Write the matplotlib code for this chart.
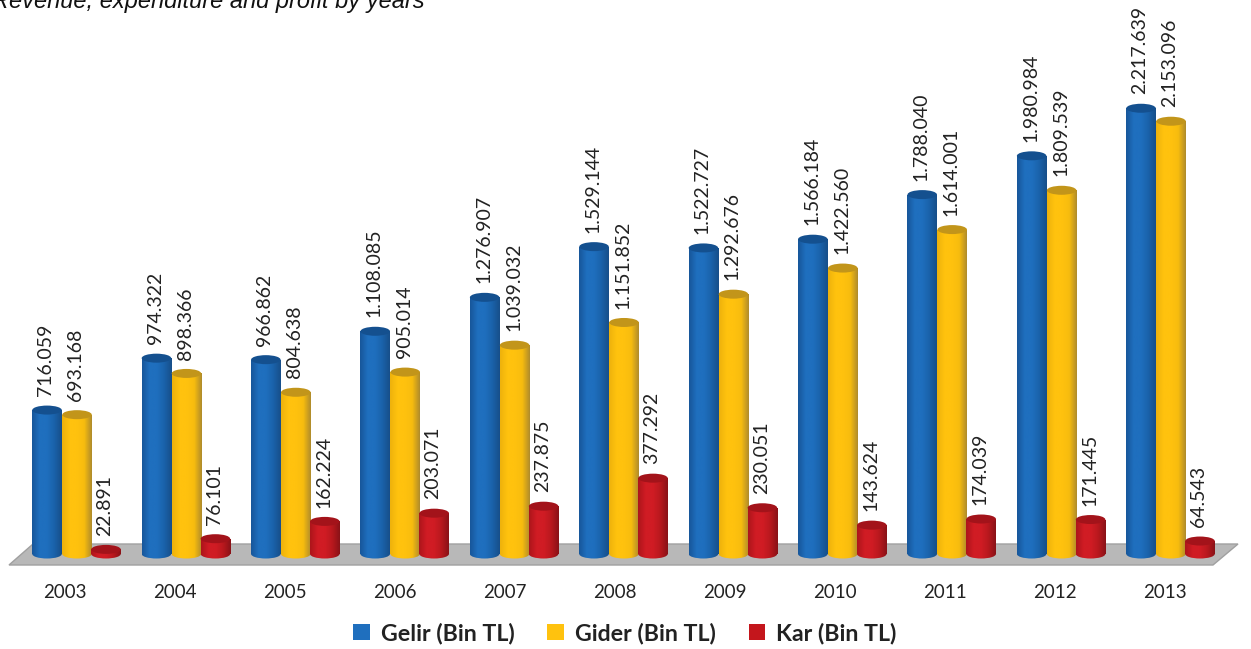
import numpy as np
import matplotlib
matplotlib.use('Agg')
import matplotlib.pyplot as plt
from matplotlib.colors import LinearSegmentedColormap
from matplotlib.patches import Ellipse, Patch, Polygon, Rectangle

years = ['2003', '2004', '2005', '2006', '2007', '2008', '2009', '2010', '2011', '2012', '2013']
gelir = [716059, 974322, 966862, 1108085, 1276907, 1529144, 1522727, 1566184, 1788040, 1980984, 2217639]
gider = [693168, 898366, 804638, 905014, 1039032, 1151852, 1292676, 1422560, 1614001, 1809539, 2153096]
kar = [22891, 76101, 162224, 203071, 237875, 377292, 230051, 143624, 174039, 171445, 64543]

plt.rcParams['font.family'] = ['Lato', 'DejaVu Sans']

W, H = 1251, 649
PX_X = 109.4     # px per group
PX_Y = 0.000201  # px per TL
X0, Y0 = 77, 554  # px position of x=0, y=0

fig = plt.figure(figsize=(W / 100, H / 100), dpi=100)
ax = fig.add_axes([0, 0, 1, 1])
ax.set_xlim(-X0 / PX_X, (W - X0) / PX_X)
ax.set_ylim(-(H - Y0) / PX_Y, Y0 / PX_Y)
ax.axis('off')

bar_w = 29.5 / PX_X
ell_h = 9 / PX_Y
grad = np.linspace(0, 1, 64).reshape(1, -1)


def cylinder(x, val, cmap, top):
    left = x - bar_w / 2
    body = Rectangle((left, 0), bar_w, val, transform=ax.transData)
    foot = Ellipse((x, 0), bar_w, ell_h, transform=ax.transData)
    for clip in (body, foot):
        im = ax.imshow(grad, cmap=cmap, extent=(left, left + bar_w, -ell_h, val),
                       aspect='auto', zorder=3)
        im.set_clip_path(clip)
    ax.add_patch(Ellipse((x, val), bar_w, ell_h, fc=top, ec='none', zorder=4))


# grey floor
floor = [(9 / W, 1 - 565 / H), (33 / W, 1 - 544 / H), (1238 / W, 1 - 544 / H), (1213 / W, 1 - 565 / H)]
ax.add_patch(Polygon(floor, closed=True, transform=ax.transAxes, fc='#b8b8b8', ec='#a0a0a0', lw=1, zorder=1))

series = [
    (gelir, -0.274, ['#17569a', '#1f6fbe', '#1f6fbe', '#1a62aa', '#174f8a'], '#14508f'),
    (gider, 0.0, ['#eeb20c', '#ffc20e', '#ffc20e', '#f7bc0e', '#b08c2c'], '#c2951a'),
    (kar, 0.265, ['#ad151b', '#d01c24', '#d01c24', '#b8181e', '#8a1217'], '#a3131a'),
]

for vals, off, cols, top in series:
    cmap = LinearSegmentedColormap.from_list('cyl', cols)
    for i, v in enumerate(vals):
        cylinder(i + off, v, cmap, top)
        label = f'{v:,}'.replace(',', '.')
        ax.annotate(label, (i + off - 0.01, v), xytext=(0, 10), textcoords='offset points',
                    rotation=90, ha='center', va='bottom', fontsize=14, color='#222222', zorder=5)

# year labels sit a bit left of the group centre
for i, y in enumerate(years):
    ax.text(i - 0.115 + i * 0.006, -(592 - Y0) / PX_Y, y, ha='center', va='center',
            fontsize=13.5, color='#222222')

handles = [Patch(fc='#1f6fbe', label='Gelir (Bin TL)'),
           Patch(fc='#ffc20e', label='Gider (Bin TL)'),
           Patch(fc='#c4161c', label='Kar (Bin TL)')]
ax.legend(handles=handles, ncol=3, frameon=False, loc='center', bbox_to_anchor=(625 / W, 1 - 633 / H),
          prop={'weight': 'bold', 'size': 16.7}, handlelength=0.7, handleheight=0.7,
          handletextpad=0.5, columnspacing=1.4, labelcolor='#222222',
          borderpad=0, borderaxespad=0)

ax.text(-8 / W, 1 - 8 / H, 'Revenue, expenditure and profit by years', transform=ax.transAxes,
        family='Liberation Sans', style='italic', fontsize=17, color='#111111', va='baseline')

fig.savefig('out.png', dpi=100)
